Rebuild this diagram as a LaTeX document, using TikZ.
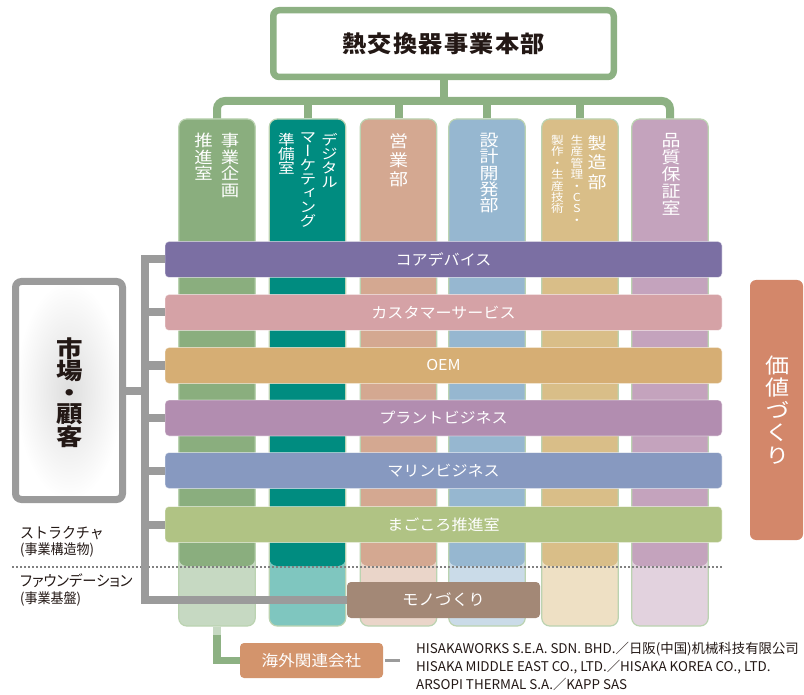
\documentclass[tikz,border=0pt]{standalone}
\usepackage{fontspec}
\usetikzlibrary{shadows}
\newfontfamily\jp{Noto Sans CJK JP}
\newfontfamily\jpn{Noto Sans CJK JP}[FakeStretch=0.93]
\newfontfamily\jpp{Noto Sans CJK JP}[RawFeature=+palt, FakeStretch=0.95]
\newfontfamily\jph{Noto Sans CJK JP}[FakeStretch=1.07]
\newfontfamily\jpv{Noto Sans CJK JP}[RawFeature=+vert, FakeStretch=1.15]
\newfontfamily\jpt{Noto Sans CJK JP}[FakeStretch=1.05, LetterSpace=6]
\definecolor{gconn}{HTML}{8DB183}
\definecolor{colline}{HTML}{BBD3B1}
\definecolor{cAd}{HTML}{8AAE7E}\definecolor{cAl}{HTML}{C6D9C2}
\definecolor{cBd}{HTML}{008C80}\definecolor{cBl}{HTML}{7FC6BF}
\definecolor{cCd}{HTML}{D4A891}\definecolor{cCl}{HTML}{EAD5C9}
\definecolor{cDd}{HTML}{96B7D0}\definecolor{cDl}{HTML}{CADBE8}
\definecolor{cEd}{HTML}{D9BE88}\definecolor{cEl}{HTML}{EEE0C4}
\definecolor{cFd}{HTML}{C4A3BD}\definecolor{cFl}{HTML}{E2D2DE}
\definecolor{bA}{HTML}{7B6FA3}
\definecolor{bB}{HTML}{D5A2A6}
\definecolor{bC}{HTML}{D6AE74}
\definecolor{bD}{HTML}{B28DB0}
\definecolor{bE}{HTML}{8799C0}
\definecolor{bF}{HTML}{B0C384}
\definecolor{gry}{HTML}{9B9B9B}
\definecolor{dotg}{HTML}{808080}
\definecolor{monoc}{HTML}{A38876}
\definecolor{kaic}{HTML}{D3946C}
\definecolor{valc}{HTML}{D3876A}
\definecolor{tdark}{HTML}{231815}
\begin{document}
\begin{tikzpicture}[x=1pt,y=-1pt,
  colbox/.style={draw=colline, line width=1.2, rounded corners=8, minimum width=76.5, minimum height=507, inner sep=0},
  twotone/.style 2 args={fill=#2, path picture={\fill[#1] (path picture bounding box.north west) rectangle ([yshift=-447pt]path picture bounding box.north east);}},
  gline/.style={draw=gconn, line width=8},
  gyline/.style={draw=gry, line width=8},
  band/.style={draw=white, draw opacity=0.5, line width=0.8, rounded corners=4, minimum width=557, minimum height=36, inner sep=0, text=white, font=\jph\fontsize{15}{15}\selectfont},
  vt/.style={align=center, inner sep=0, text=white, anchor=north},
  lbl/.style={anchor=west, inner sep=0, text=tdark},
]
\useasboundingbox (0,0) rectangle (804,695);

% top box
\node[draw=gconn, line width=6.5, fill=white, rounded corners=6, minimum width=340.5, minimum height=66.75, inner sep=0,
      drop shadow={shadow xshift=2pt, shadow yshift=-2pt, opacity=0.18, fill=black},
      text=tdark, font=\jpt\bfseries\fontsize{23}{23}\selectfont] (top) at (443.5,43.6) {熱交換器事業本部};

% columns
\node[colbox, twotone={cAd}{cAl}] (c1) at (217,372.5) {};
\node[colbox, twotone={cBd}{cBl}] (c2) at (307.5,372.5) {};
\node[colbox, twotone={cCd}{cCl}] (c3) at (398.5,372.5) {};
\node[colbox, twotone={cDd}{cDl}] (c4) at (487,372.5) {};
\node[colbox, twotone={cEd}{cEl}] (c5) at (580,372.5) {};
\node[colbox, twotone={cFd}{cFl}] (c6) at (670,372.5) {};

% green tree
\coordinate (hb) at (443.5,101);
\draw[gline] (top.south) -- (top.south |- hb);
\draw[gline, rounded corners=8] (c1.north) -- (c1.north |- hb) -- (c6.north |- hb) -- (c6.north);
\foreach \c in {c2,c3,c4,c5} \draw[gline] (\c.north) -- (\c.north |- hb);

% column texts
\node[vt, font=\jpv\fontsize{16}{16.5}\selectfont] (t1a) at (230,133) {事\\業\\企\\画};
\node[vt, font=\jpv\fontsize{16}{16.5}\selectfont] (t1b) at (203.5,133) {推\\進\\室};
\node[vt, font=\jpv\fontsize{14.5}{14}\selectfont] (t2a) at (329.5,133) {デ\\ジ\\タ\\ル};
\node[vt, font=\jpv\fontsize{14.5}{14}\selectfont] (t2b) at (308,133) {マ\\ー\\ケ\\テ\\ィ\\ン\\グ};
\node[vt, font=\jpv\fontsize{14.5}{14}\selectfont] (t2c) at (286.5,133) {準\\備\\室};
\node[vt, font=\jpv\fontsize{16.5}{19}\selectfont] (t3) at (398.5,133) {営\\業\\部};
\node[vt, font=\jpv\fontsize{16.5}{16.25}\selectfont] (t4) at (489,133) {設\\計\\開\\発\\部};
\node[vt, font=\jpv\fontsize{16.5}{19.5}\selectfont] (t5a) at (597,135) {製\\造\\部};
\node[vt, font=\jpv\fontsize{11}{11.4}\selectfont] (t5b) at (577,135) {生\\産\\管\\理\\・\\C\\S\\・};
\node[vt, font=\jpv\fontsize{11}{11.4}\selectfont] (t5c) at (557.5,135) {製\\作\\・\\生\\産\\技\\術};
\node[vt, font=\jpv\fontsize{16.5}{17}\selectfont] (t6) at (671,133) {品\\質\\保\\証\\室};

% dashed divider
\coordinate (dl1) at (12,567);
\coordinate (dl2) at (723,567);
\draw[dotg, line width=1.3, dash pattern=on 2pt off 2pt] (dl1) -- (dl2);

% bands
\node[band, fill=bA] (b1) at (443.5,259.5) {コアデバイス};
\node[band, fill=bB] (b2) at (443.5,312.5) {カスタマーサービス};
\node[band, fill=bC] (b3) at (443.5,365.5) {OEM};
\node[band, fill=bD] (b4) at (443.5,418) {プラントビジネス};
\node[band, fill=bE] (b5) at (443.5,470.5) {マリンビジネス};
\node[band, fill=bF] (b6) at (443.5,524.5) {まごころ推進室};

% mono, overseas, value
\node[rounded corners=4, fill=monoc, minimum width=193, minimum height=36, inner sep=0, text=white,
      font=\jph\fontsize{15.5}{15.5}\selectfont] (mono) at (443.5,600) {モノづくり};
\node[rounded corners=4, fill=kaic, minimum width=143, minimum height=35, inner sep=0, text=white,
      font=\jph\fontsize{15.5}{15.5}\selectfont] (kai) at (311.5,660.5) {海外関連会社};
\node[rounded corners=6, fill=valc, minimum width=53, minimum height=260, inner sep=0] (val) at (776.5,410) {};
\node[vt, anchor=center, font=\jpv\fontsize{21}{22.5}\selectfont] (valt) at (778,410) {価\\値\\づ\\く\\り};

% market box
\node[draw=gry, line width=7, rounded corners=6, minimum width=107, minimum height=218, inner sep=0,
      inner color=black!13, outer color=white,
      drop shadow={shadow xshift=1.5pt, shadow yshift=-1.5pt, opacity=0.15, fill=black}] (mkt) at (69,390.5) {};
\node[vt, anchor=center, text=tdark, font=\jpv\bfseries\fontsize{23}{21.25}\selectfont] (mktt) at (69.5,392.5) {市\\場\\・\\顧\\客};

% gray bracket
\coordinate (vx) at (144.5,0);
\draw[gyline] (b1.west) -- (b1.west -| vx) |- (mono.west);
\foreach \b in {b2,b3,b4,b5,b6} \draw[gyline] (\b.west) -- (\b.west -| vx);
\draw[gyline] (mkt.east) -- (mkt.east -| vx);

% overseas connector
\draw[gline, line width=7.5] (c1.south) |- (kai.west);
\draw[cAl, line width=7.5] (c1.south) -- ++(0,8);
\coordinate (gl) at (400,660.5);
\draw[gry, line width=3] ([xshift=2pt]kai.east) -- (gl);

% left labels
\node[lbl, font=\jpn\fontsize{15}{15}\selectfont] (st1) at (20,533.5) {ストラクチャ};
\node[lbl, font=\jpn\fontsize{14}{14}\selectfont] (st2) at (20,550) {(事業構造物)};
\node[lbl, font=\jpp\fontsize{15}{15}\selectfont] (fd1) at (20,581) {ファウンデーション};
\node[lbl, font=\jpn\fontsize{14}{14}\selectfont] (fd2) at (20,599) {(事業基盤)};

% overseas companies
\node[anchor=west, align=left, inner sep=0, text=tdark, font=\jp\fontsize{13.4}{18}\selectfont] (ovs) at (416,666)
  {HISAKAWORKS S.E.A. SDN. BHD.／日阪(中国)机械科技有限公司\\HISAKA MIDDLE EAST CO., LTD.／HISAKA KOREA CO., LTD.\\ARSOPI THERMAL S.A.／KAPP SAS};
\end{tikzpicture}
\end{document}
